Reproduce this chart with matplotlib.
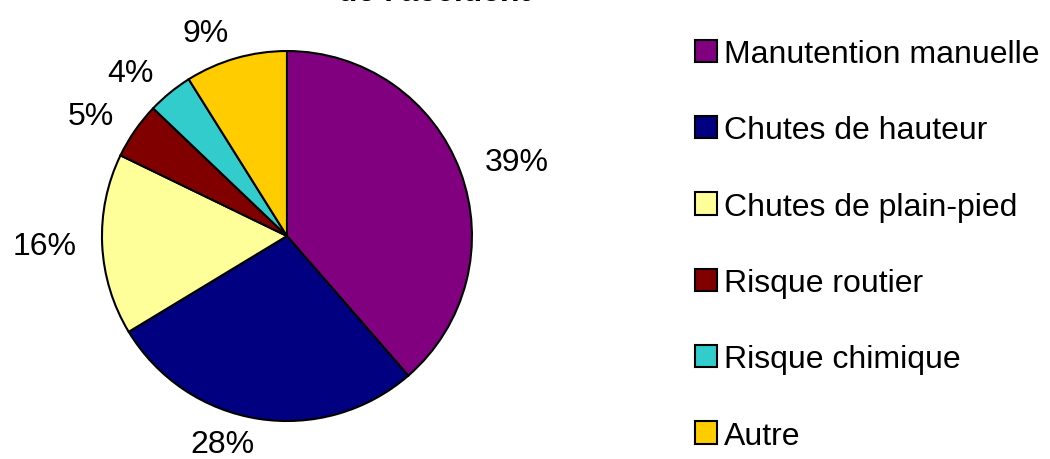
import matplotlib.pyplot as plt
from matplotlib.patches import Patch

plt.rcParams['font.family'] = ['Liberation Sans', 'DejaVu Sans']

# Données
categories = ['Manutention manuelle', 'Chutes de hauteur', 'Chutes de plain-pied',
              'Risque routier', 'Risque chimique', 'Autre']
valeurs = [39, 28, 16, 5, 4, 9]
etiquettes = ['39%', '28%', '16%', '5%', '4%', '9%']
couleurs = ['#800080', '#000080', '#FFFF99', '#800000', '#33CCCC', '#FFCC00']

fig = plt.figure(figsize=(10.5, 4.6), dpi=100)

# axe du camembert : centre ~ (287, 237) px, rayon ~ 185 px
ax = fig.add_axes([0.0971, 0.0826, 0.3524, 0.8043])
wedges, textes = ax.pie(valeurs, labels=etiquettes, colors=couleurs,
                        startangle=90, counterclock=False,
                        labeldistance=1.14,
                        wedgeprops={'edgecolor': 'black', 'linewidth': 1.5},
                        textprops={'fontsize': 23, 'color': 'black'})
ax.set_xlim(-1, 1)
ax.set_ylim(-1, 1)
ax.set_aspect('equal')

# titre coupé en haut (comme sur l'original)
fig.text(434 / 1050, 1 - 8 / 460, "de l'accident", ha='center', va='bottom',
         fontsize=23, fontweight='bold')

# légende à droite
poignees = [Patch(facecolor=c, edgecolor='black', linewidth=1.5) for c in couleurs]
leg = fig.legend(poignees, categories, loc='upper left',
                 bbox_to_anchor=(695 / 1050, 1 - 40 / 460),
                 frameon=False, fontsize=23,
                 handlelength=0.7, handleheight=0.7, handletextpad=0.2,
                 labelspacing=1.45, borderpad=0, borderaxespad=0)

fig.savefig('out.png', dpi=100)
